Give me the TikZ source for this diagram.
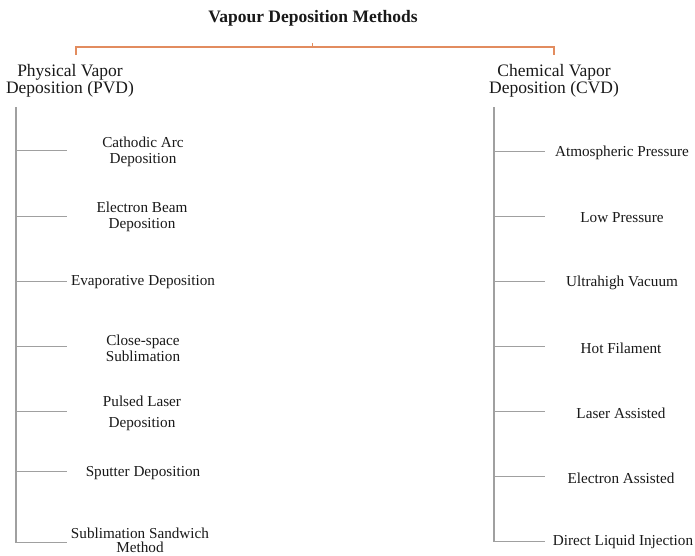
\documentclass[tikz,border=0pt]{standalone}
\usepackage{fontspec}
\setmainfont{Liberation Serif}
\definecolor{txt}{RGB}{25,25,25}
\definecolor{branch}{RGB}{160,160,160}
\definecolor{brk}{RGB}{226,140,95}
\begin{document}
\begin{tikzpicture}[x=1pt,y=-1pt,
  title/.style={font=\fontsize{17.5}{19}\selectfont\bfseries, text=txt, inner sep=0pt},
  head/.style={font=\fontsize{17.5}{16.5}\selectfont, text=txt, align=center, inner sep=0pt},
  item/.style={font=\fontsize{15.2}{16}\selectfont, text=txt, align=center, inner sep=0pt},
  trunk/.style={draw=branch, line width=1.4pt},
  twig/.style={draw=branch, line width=0.9pt},
  bracketline/.style={draw=brk, line width=1.3pt}]
\useasboundingbox (0,0) rectangle (695,555);
\fill[white] (0,0) rectangle (695,555);

% title and bracket
\node[title] (title) at (313,18) {Vapour Deposition Methods};
\coordinate (bl) at (76,47);
\coordinate (br) at (554,47);
\coordinate (blb) at (76,55);
\coordinate (brb) at (554,55);
\coordinate (bm) at (312,47);
\coordinate (bmt) at (312,43);
\draw[bracketline] (blb) -- (bl) -- (br) -- (brb);
\draw[draw=brk, line width=0.8pt] (bm) -- (bmt);

% headers
\node[head] (pvd) at (70,81) {Physical Vapor\\Deposition (PVD)};
\node[head] (cvd) at (554,81) {Chemical Vapor\\Deposition (CVD)};

% PVD trunk
\coordinate (lt) at (16,107);
\coordinate (lb) at (16,543);
\draw[trunk] (lt) -- (lb);

% PVD items
\node[item] (p1) at (143,151.5) {Cathodic Arc\\Deposition};
\node[item] (p2) at (142,217) {Electron Beam\\Deposition};
\node[item] (p3) at (143,282.5) {Evaporative Deposition};
\node[item] (p4) at (143,348) {Close-space\\Sublimation};
\node[item] (p5) at (142,413.5) {Pulsed Laser\\[4.5pt]Deposition};
\node[item] (p6) at (143,473) {Sputter Deposition};
\node[item] (p7) at (140,540.5) {Sublimation Sandwich\\[-2pt]Method};

\foreach \y/\n in {150.5/1,216/2,281.5/3,346.7/4,411.7/5,471.7/6,542.5/7}{
  \coordinate (la\n) at (16,\y);
  \coordinate (le\n) at (67,\y);
  \draw[twig] (la\n) -- (le\n);
}

% CVD trunk
\coordinate (rt) at (494,107);
\coordinate (rb) at (494,542);
\draw[trunk] (rt) -- (rb);

% CVD items
\node[item] (c1) at (622,153) {Atmospheric Pressure};
\node[item] (c2) at (622,217.5) {Low Pressure};
\node[item] (c3) at (622,283) {Ultrahigh Vacuum};
\node[item] (c4) at (621,348) {Hot Filament};
\node[item] (c5) at (621,413) {Laser Assisted};
\node[item] (c6) at (621,478) {Electron Assisted};
\node[item] (c7) at (623,542) {Direct Liquid Injection};

\foreach \y/\n in {151.7/1,216/2,281.7/3,346.7/4,411.7/5,476.7/6,541.7/7}{
  \coordinate (ra\n) at (494,\y);
  \coordinate (re\n) at (545,\y);
  \draw[twig] (ra\n) -- (re\n);
}
\end{tikzpicture}
\end{document}
